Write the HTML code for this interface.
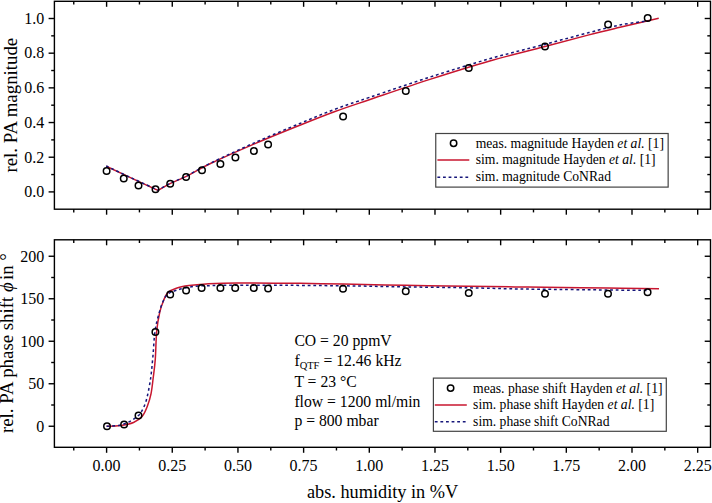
<!DOCTYPE html>
<html><head><meta charset="utf-8"><style>
html,body{margin:0;padding:0;background:#fff;}
body{width:712px;height:503px;overflow:hidden;}
svg{display:block;}
</style></head><body>
<svg width="712" height="503" viewBox="0 0 712 503" font-family='"Liberation Serif", serif'>
<rect width="712" height="503" fill="#fff"/>
<rect x="54.4" y="1.3" width="656.1" height="207.89999999999998" fill="none" stroke="#000" stroke-width="1.4"/>
<line x1="73.76" y1="209.2" x2="73.76" y2="212.39999999999998" stroke="#000" stroke-width="1.4"/>
<line x1="73.76" y1="1.3" x2="73.76" y2="4.5" stroke="#000" stroke-width="1.4"/>
<line x1="106.60" y1="209.2" x2="106.60" y2="214.7" stroke="#000" stroke-width="1.4"/>
<line x1="106.60" y1="1.3" x2="106.60" y2="6.8" stroke="#000" stroke-width="1.4"/>
<line x1="139.44" y1="209.2" x2="139.44" y2="212.39999999999998" stroke="#000" stroke-width="1.4"/>
<line x1="139.44" y1="1.3" x2="139.44" y2="4.5" stroke="#000" stroke-width="1.4"/>
<line x1="172.27" y1="209.2" x2="172.27" y2="214.7" stroke="#000" stroke-width="1.4"/>
<line x1="172.27" y1="1.3" x2="172.27" y2="6.8" stroke="#000" stroke-width="1.4"/>
<line x1="205.11" y1="209.2" x2="205.11" y2="212.39999999999998" stroke="#000" stroke-width="1.4"/>
<line x1="205.11" y1="1.3" x2="205.11" y2="4.5" stroke="#000" stroke-width="1.4"/>
<line x1="237.95" y1="209.2" x2="237.95" y2="214.7" stroke="#000" stroke-width="1.4"/>
<line x1="237.95" y1="1.3" x2="237.95" y2="6.8" stroke="#000" stroke-width="1.4"/>
<line x1="270.79" y1="209.2" x2="270.79" y2="212.39999999999998" stroke="#000" stroke-width="1.4"/>
<line x1="270.79" y1="1.3" x2="270.79" y2="4.5" stroke="#000" stroke-width="1.4"/>
<line x1="303.62" y1="209.2" x2="303.62" y2="214.7" stroke="#000" stroke-width="1.4"/>
<line x1="303.62" y1="1.3" x2="303.62" y2="6.8" stroke="#000" stroke-width="1.4"/>
<line x1="336.46" y1="209.2" x2="336.46" y2="212.39999999999998" stroke="#000" stroke-width="1.4"/>
<line x1="336.46" y1="1.3" x2="336.46" y2="4.5" stroke="#000" stroke-width="1.4"/>
<line x1="369.30" y1="209.2" x2="369.30" y2="214.7" stroke="#000" stroke-width="1.4"/>
<line x1="369.30" y1="1.3" x2="369.30" y2="6.8" stroke="#000" stroke-width="1.4"/>
<line x1="402.14" y1="209.2" x2="402.14" y2="212.39999999999998" stroke="#000" stroke-width="1.4"/>
<line x1="402.14" y1="1.3" x2="402.14" y2="4.5" stroke="#000" stroke-width="1.4"/>
<line x1="434.98" y1="209.2" x2="434.98" y2="214.7" stroke="#000" stroke-width="1.4"/>
<line x1="434.98" y1="1.3" x2="434.98" y2="6.8" stroke="#000" stroke-width="1.4"/>
<line x1="467.81" y1="209.2" x2="467.81" y2="212.39999999999998" stroke="#000" stroke-width="1.4"/>
<line x1="467.81" y1="1.3" x2="467.81" y2="4.5" stroke="#000" stroke-width="1.4"/>
<line x1="500.65" y1="209.2" x2="500.65" y2="214.7" stroke="#000" stroke-width="1.4"/>
<line x1="500.65" y1="1.3" x2="500.65" y2="6.8" stroke="#000" stroke-width="1.4"/>
<line x1="533.49" y1="209.2" x2="533.49" y2="212.39999999999998" stroke="#000" stroke-width="1.4"/>
<line x1="533.49" y1="1.3" x2="533.49" y2="4.5" stroke="#000" stroke-width="1.4"/>
<line x1="566.32" y1="209.2" x2="566.32" y2="214.7" stroke="#000" stroke-width="1.4"/>
<line x1="566.32" y1="1.3" x2="566.32" y2="6.8" stroke="#000" stroke-width="1.4"/>
<line x1="599.16" y1="209.2" x2="599.16" y2="212.39999999999998" stroke="#000" stroke-width="1.4"/>
<line x1="599.16" y1="1.3" x2="599.16" y2="4.5" stroke="#000" stroke-width="1.4"/>
<line x1="632.00" y1="209.2" x2="632.00" y2="214.7" stroke="#000" stroke-width="1.4"/>
<line x1="632.00" y1="1.3" x2="632.00" y2="6.8" stroke="#000" stroke-width="1.4"/>
<line x1="664.84" y1="209.2" x2="664.84" y2="212.39999999999998" stroke="#000" stroke-width="1.4"/>
<line x1="664.84" y1="1.3" x2="664.84" y2="4.5" stroke="#000" stroke-width="1.4"/>
<line x1="697.67" y1="209.2" x2="697.67" y2="214.7" stroke="#000" stroke-width="1.4"/>
<line x1="697.67" y1="1.3" x2="697.67" y2="6.8" stroke="#000" stroke-width="1.4"/>
<line x1="48.6" y1="191.90" x2="54.4" y2="191.90" stroke="#000" stroke-width="1.4"/>
<line x1="704.7" y1="191.90" x2="710.5" y2="191.90" stroke="#000" stroke-width="1.4"/>
<line x1="48.6" y1="157.22" x2="54.4" y2="157.22" stroke="#000" stroke-width="1.4"/>
<line x1="704.7" y1="157.22" x2="710.5" y2="157.22" stroke="#000" stroke-width="1.4"/>
<line x1="48.6" y1="122.54" x2="54.4" y2="122.54" stroke="#000" stroke-width="1.4"/>
<line x1="704.7" y1="122.54" x2="710.5" y2="122.54" stroke="#000" stroke-width="1.4"/>
<line x1="48.6" y1="87.86" x2="54.4" y2="87.86" stroke="#000" stroke-width="1.4"/>
<line x1="704.7" y1="87.86" x2="710.5" y2="87.86" stroke="#000" stroke-width="1.4"/>
<line x1="48.6" y1="53.18" x2="54.4" y2="53.18" stroke="#000" stroke-width="1.4"/>
<line x1="704.7" y1="53.18" x2="710.5" y2="53.18" stroke="#000" stroke-width="1.4"/>
<line x1="48.6" y1="18.50" x2="54.4" y2="18.50" stroke="#000" stroke-width="1.4"/>
<line x1="704.7" y1="18.50" x2="710.5" y2="18.50" stroke="#000" stroke-width="1.4"/>
<line x1="51.199999999999996" y1="174.56" x2="54.4" y2="174.56" stroke="#000" stroke-width="1.4"/>
<line x1="707.3" y1="174.56" x2="710.5" y2="174.56" stroke="#000" stroke-width="1.4"/>
<line x1="51.199999999999996" y1="139.88" x2="54.4" y2="139.88" stroke="#000" stroke-width="1.4"/>
<line x1="707.3" y1="139.88" x2="710.5" y2="139.88" stroke="#000" stroke-width="1.4"/>
<line x1="51.199999999999996" y1="105.20" x2="54.4" y2="105.20" stroke="#000" stroke-width="1.4"/>
<line x1="707.3" y1="105.20" x2="710.5" y2="105.20" stroke="#000" stroke-width="1.4"/>
<line x1="51.199999999999996" y1="70.52" x2="54.4" y2="70.52" stroke="#000" stroke-width="1.4"/>
<line x1="707.3" y1="70.52" x2="710.5" y2="70.52" stroke="#000" stroke-width="1.4"/>
<line x1="51.199999999999996" y1="35.84" x2="54.4" y2="35.84" stroke="#000" stroke-width="1.4"/>
<line x1="707.3" y1="35.84" x2="710.5" y2="35.84" stroke="#000" stroke-width="1.4"/>
<text x="44.2" y="197.20" text-anchor="end" font-size="16">0.0</text>
<text x="44.2" y="162.52" text-anchor="end" font-size="16">0.2</text>
<text x="44.2" y="127.84" text-anchor="end" font-size="16">0.4</text>
<text x="44.2" y="93.16" text-anchor="end" font-size="16">0.6</text>
<text x="44.2" y="58.48" text-anchor="end" font-size="16">0.8</text>
<text x="44.2" y="23.80" text-anchor="end" font-size="16">1.0</text>
<path d="M106.25,166.20 C110.54,168.23 123.38,174.37 132.00,178.40 C140.62,182.43 153.67,188.40 158.00,190.40  L158.00,190.40 C160.00,189.27 165.29,185.95 170.00,183.60 C174.71,181.25 179.42,179.68 186.25,176.30 C193.08,172.92 199.54,168.75 211.00,163.30 C222.46,157.85 240.18,149.95 255.00,143.60 C269.82,137.25 286.57,130.55 299.90,125.20 C313.23,119.85 323.32,115.78 335.00,111.50 C346.68,107.22 354.18,104.85 370.00,99.50 C385.82,94.15 410.08,85.78 429.90,79.40 C449.72,73.03 469.72,66.72 488.90,61.25 C508.08,55.78 528.33,50.99 545.00,46.60 C561.67,42.21 576.40,38.12 588.90,34.90 C601.40,31.68 608.36,30.08 620.00,27.30 C631.64,24.52 652.29,19.72 658.75,18.20" fill="none" stroke="#c8162f" stroke-width="1.5" stroke-linejoin="miter"/>
<path d="M106.25,166.00 C110.54,168.03 123.38,174.17 132.00,178.20 C140.62,182.23 153.67,188.20 158.00,190.20  L158.00,190.20 C160.00,189.07 165.29,185.75 170.00,183.40 C174.71,181.05 179.42,179.51 186.25,176.10 C193.08,172.69 199.54,168.52 211.00,162.93 C222.46,157.34 240.18,149.13 255.00,142.55 C269.82,135.98 286.57,129.02 299.90,123.46 C313.23,117.90 323.32,113.58 335.00,109.20 C346.68,104.82 354.18,102.55 370.00,97.20 C385.82,91.85 410.08,83.48 429.90,77.10 C449.72,70.73 469.72,64.42 488.90,58.95 C508.08,53.48 528.33,48.69 545.00,44.30 C561.67,39.91 576.40,35.82 588.90,32.60 C601.40,29.38 610.15,26.95 620.00,25.00 C629.85,23.05 643.33,21.58 648.00,20.90" fill="none" stroke="#16167a" stroke-width="1.5" stroke-dasharray="2.8 2.8"/>
<circle cx="106.6" cy="171" r="3.25" fill="none" stroke="#000" stroke-width="1.5"/>
<circle cx="123.75" cy="178.5" r="3.25" fill="none" stroke="#000" stroke-width="1.5"/>
<circle cx="138.5" cy="185.4" r="3.25" fill="none" stroke="#000" stroke-width="1.5"/>
<circle cx="155.5" cy="189.3" r="3.25" fill="none" stroke="#000" stroke-width="1.5"/>
<circle cx="170.2" cy="183.8" r="3.25" fill="none" stroke="#000" stroke-width="1.5"/>
<circle cx="186.1" cy="177.0" r="3.25" fill="none" stroke="#000" stroke-width="1.5"/>
<circle cx="202" cy="170.3" r="3.25" fill="none" stroke="#000" stroke-width="1.5"/>
<circle cx="220.4" cy="164" r="3.25" fill="none" stroke="#000" stroke-width="1.5"/>
<circle cx="235.4" cy="157.5" r="3.25" fill="none" stroke="#000" stroke-width="1.5"/>
<circle cx="253.9" cy="151" r="3.25" fill="none" stroke="#000" stroke-width="1.5"/>
<circle cx="268.1" cy="144.4" r="3.25" fill="none" stroke="#000" stroke-width="1.5"/>
<circle cx="343.1" cy="116.5" r="3.25" fill="none" stroke="#000" stroke-width="1.5"/>
<circle cx="405.8" cy="91.1" r="3.25" fill="none" stroke="#000" stroke-width="1.5"/>
<circle cx="468.75" cy="67.9" r="3.25" fill="none" stroke="#000" stroke-width="1.5"/>
<circle cx="545" cy="46.5" r="3.25" fill="none" stroke="#000" stroke-width="1.5"/>
<circle cx="608.1" cy="24.4" r="3.25" fill="none" stroke="#000" stroke-width="1.5"/>
<circle cx="647.7" cy="17.9" r="3.25" fill="none" stroke="#000" stroke-width="1.5"/>
<rect x="435.75" y="133.5" width="232.4" height="53.6" fill="#fff" stroke="#444" stroke-width="1.2"/>
<circle cx="453.6" cy="143.2" r="3.2" fill="none" stroke="#000" stroke-width="1.5"/>
<line x1="437.4" y1="160" x2="469.3" y2="160" stroke="#c8162f" stroke-width="1.6"/>
<line x1="437.4" y1="177.2" x2="469.3" y2="177.2" stroke="#16167a" stroke-width="1.6" stroke-dasharray="2.8 2.8"/>
<text x="475.7" y="147.6" font-size="13.65">meas. magnitude Hayden <tspan font-style="italic">et al.</tspan> [1]</text>
<text x="475.7" y="164.3" font-size="13.65">sim. magnitude Hayden <tspan font-style="italic">et al.</tspan> [1]</text>
<text x="475.7" y="181.0" font-size="13.65">sim. magnitude CoNRad</text>
<rect x="54.4" y="239.8" width="656.1" height="207.5" fill="none" stroke="#000" stroke-width="1.4"/>
<line x1="73.76" y1="447.3" x2="73.76" y2="450.5" stroke="#000" stroke-width="1.4"/>
<line x1="73.76" y1="239.8" x2="73.76" y2="243.0" stroke="#000" stroke-width="1.4"/>
<line x1="106.60" y1="447.3" x2="106.60" y2="452.8" stroke="#000" stroke-width="1.4"/>
<line x1="106.60" y1="239.8" x2="106.60" y2="245.3" stroke="#000" stroke-width="1.4"/>
<line x1="139.44" y1="447.3" x2="139.44" y2="450.5" stroke="#000" stroke-width="1.4"/>
<line x1="139.44" y1="239.8" x2="139.44" y2="243.0" stroke="#000" stroke-width="1.4"/>
<line x1="172.27" y1="447.3" x2="172.27" y2="452.8" stroke="#000" stroke-width="1.4"/>
<line x1="172.27" y1="239.8" x2="172.27" y2="245.3" stroke="#000" stroke-width="1.4"/>
<line x1="205.11" y1="447.3" x2="205.11" y2="450.5" stroke="#000" stroke-width="1.4"/>
<line x1="205.11" y1="239.8" x2="205.11" y2="243.0" stroke="#000" stroke-width="1.4"/>
<line x1="237.95" y1="447.3" x2="237.95" y2="452.8" stroke="#000" stroke-width="1.4"/>
<line x1="237.95" y1="239.8" x2="237.95" y2="245.3" stroke="#000" stroke-width="1.4"/>
<line x1="270.79" y1="447.3" x2="270.79" y2="450.5" stroke="#000" stroke-width="1.4"/>
<line x1="270.79" y1="239.8" x2="270.79" y2="243.0" stroke="#000" stroke-width="1.4"/>
<line x1="303.62" y1="447.3" x2="303.62" y2="452.8" stroke="#000" stroke-width="1.4"/>
<line x1="303.62" y1="239.8" x2="303.62" y2="245.3" stroke="#000" stroke-width="1.4"/>
<line x1="336.46" y1="447.3" x2="336.46" y2="450.5" stroke="#000" stroke-width="1.4"/>
<line x1="336.46" y1="239.8" x2="336.46" y2="243.0" stroke="#000" stroke-width="1.4"/>
<line x1="369.30" y1="447.3" x2="369.30" y2="452.8" stroke="#000" stroke-width="1.4"/>
<line x1="369.30" y1="239.8" x2="369.30" y2="245.3" stroke="#000" stroke-width="1.4"/>
<line x1="402.14" y1="447.3" x2="402.14" y2="450.5" stroke="#000" stroke-width="1.4"/>
<line x1="402.14" y1="239.8" x2="402.14" y2="243.0" stroke="#000" stroke-width="1.4"/>
<line x1="434.98" y1="447.3" x2="434.98" y2="452.8" stroke="#000" stroke-width="1.4"/>
<line x1="434.98" y1="239.8" x2="434.98" y2="245.3" stroke="#000" stroke-width="1.4"/>
<line x1="467.81" y1="447.3" x2="467.81" y2="450.5" stroke="#000" stroke-width="1.4"/>
<line x1="467.81" y1="239.8" x2="467.81" y2="243.0" stroke="#000" stroke-width="1.4"/>
<line x1="500.65" y1="447.3" x2="500.65" y2="452.8" stroke="#000" stroke-width="1.4"/>
<line x1="500.65" y1="239.8" x2="500.65" y2="245.3" stroke="#000" stroke-width="1.4"/>
<line x1="533.49" y1="447.3" x2="533.49" y2="450.5" stroke="#000" stroke-width="1.4"/>
<line x1="533.49" y1="239.8" x2="533.49" y2="243.0" stroke="#000" stroke-width="1.4"/>
<line x1="566.32" y1="447.3" x2="566.32" y2="452.8" stroke="#000" stroke-width="1.4"/>
<line x1="566.32" y1="239.8" x2="566.32" y2="245.3" stroke="#000" stroke-width="1.4"/>
<line x1="599.16" y1="447.3" x2="599.16" y2="450.5" stroke="#000" stroke-width="1.4"/>
<line x1="599.16" y1="239.8" x2="599.16" y2="243.0" stroke="#000" stroke-width="1.4"/>
<line x1="632.00" y1="447.3" x2="632.00" y2="452.8" stroke="#000" stroke-width="1.4"/>
<line x1="632.00" y1="239.8" x2="632.00" y2="245.3" stroke="#000" stroke-width="1.4"/>
<line x1="664.84" y1="447.3" x2="664.84" y2="450.5" stroke="#000" stroke-width="1.4"/>
<line x1="664.84" y1="239.8" x2="664.84" y2="243.0" stroke="#000" stroke-width="1.4"/>
<line x1="697.67" y1="447.3" x2="697.67" y2="452.8" stroke="#000" stroke-width="1.4"/>
<line x1="697.67" y1="239.8" x2="697.67" y2="245.3" stroke="#000" stroke-width="1.4"/>
<line x1="48.6" y1="426.25" x2="54.4" y2="426.25" stroke="#000" stroke-width="1.4"/>
<line x1="704.7" y1="426.25" x2="710.5" y2="426.25" stroke="#000" stroke-width="1.4"/>
<line x1="48.6" y1="383.75" x2="54.4" y2="383.75" stroke="#000" stroke-width="1.4"/>
<line x1="704.7" y1="383.75" x2="710.5" y2="383.75" stroke="#000" stroke-width="1.4"/>
<line x1="48.6" y1="341.25" x2="54.4" y2="341.25" stroke="#000" stroke-width="1.4"/>
<line x1="704.7" y1="341.25" x2="710.5" y2="341.25" stroke="#000" stroke-width="1.4"/>
<line x1="48.6" y1="298.75" x2="54.4" y2="298.75" stroke="#000" stroke-width="1.4"/>
<line x1="704.7" y1="298.75" x2="710.5" y2="298.75" stroke="#000" stroke-width="1.4"/>
<line x1="48.6" y1="256.25" x2="54.4" y2="256.25" stroke="#000" stroke-width="1.4"/>
<line x1="704.7" y1="256.25" x2="710.5" y2="256.25" stroke="#000" stroke-width="1.4"/>
<line x1="51.199999999999996" y1="405.00" x2="54.4" y2="405.00" stroke="#000" stroke-width="1.4"/>
<line x1="707.3" y1="405.00" x2="710.5" y2="405.00" stroke="#000" stroke-width="1.4"/>
<line x1="51.199999999999996" y1="362.50" x2="54.4" y2="362.50" stroke="#000" stroke-width="1.4"/>
<line x1="707.3" y1="362.50" x2="710.5" y2="362.50" stroke="#000" stroke-width="1.4"/>
<line x1="51.199999999999996" y1="320.00" x2="54.4" y2="320.00" stroke="#000" stroke-width="1.4"/>
<line x1="707.3" y1="320.00" x2="710.5" y2="320.00" stroke="#000" stroke-width="1.4"/>
<line x1="51.199999999999996" y1="277.50" x2="54.4" y2="277.50" stroke="#000" stroke-width="1.4"/>
<line x1="707.3" y1="277.50" x2="710.5" y2="277.50" stroke="#000" stroke-width="1.4"/>
<text x="44.2" y="431.55" text-anchor="end" font-size="16">0</text>
<text x="44.2" y="389.05" text-anchor="end" font-size="16">50</text>
<text x="44.2" y="346.55" text-anchor="end" font-size="16">100</text>
<text x="44.2" y="304.05" text-anchor="end" font-size="16">150</text>
<text x="44.2" y="261.55" text-anchor="end" font-size="16">200</text>
<path d="M106.60,426.30 C108.83,426.18 115.52,426.23 120.00,425.60 C124.48,424.97 129.79,424.05 133.50,422.50 C137.21,420.95 139.96,418.97 142.25,416.30 C144.54,413.63 145.79,410.25 147.25,406.50 C148.71,402.75 149.99,398.72 151.00,393.80 C152.01,388.88 152.58,382.80 153.30,377.00 C154.02,371.20 154.73,366.67 155.30,359.00 C155.87,351.33 155.95,338.83 156.70,331.00 C157.45,323.17 158.63,317.13 159.80,312.00 C160.97,306.87 162.35,303.43 163.70,300.20 C165.05,296.97 165.80,294.60 167.90,292.60 C170.00,290.60 172.78,289.37 176.30,288.20 C179.82,287.03 184.05,286.30 189.00,285.60 C193.95,284.90 197.92,284.45 206.00,284.00 C214.08,283.55 221.83,283.02 237.50,282.90 C253.17,282.78 282.42,283.10 300.00,283.30 C317.58,283.50 325.50,283.77 343.00,284.10 C360.50,284.43 384.17,284.93 405.00,285.30 C425.83,285.67 449.67,286.03 468.00,286.30 C486.33,286.57 502.17,286.73 515.00,286.90 C527.83,287.07 529.50,287.10 545.00,287.30 C560.50,287.50 589.00,287.87 608.00,288.10 C627.00,288.33 650.50,288.60 659.00,288.70" fill="none" stroke="#c8162f" stroke-width="1.5"/>
<path d="M106.60,426.30 C108.83,426.12 116.10,426.03 120.00,425.20 C123.90,424.37 127.00,422.87 130.00,421.30 C133.00,419.73 136.17,417.27 138.00,415.80 C139.83,414.33 139.67,414.92 141.00,412.50 C142.33,410.08 144.43,406.72 146.00,401.30 C147.57,395.88 149.25,387.47 150.40,380.00 C151.55,372.53 152.13,364.67 152.90,356.50 C153.67,348.33 153.98,338.17 155.00,331.00 C156.02,323.83 157.67,318.42 159.00,313.50 C160.33,308.58 161.50,304.75 163.00,301.50 C164.50,298.25 165.58,295.92 168.00,294.00 C170.42,292.08 173.21,291.27 177.50,290.00 C181.79,288.73 188.17,287.13 193.75,286.40 C199.33,285.67 205.38,285.78 211.00,285.60 C216.62,285.42 218.00,285.37 227.50,285.30 C237.00,285.23 248.75,285.12 268.00,285.20 C287.25,285.28 320.17,285.52 343.00,285.80 C365.83,286.08 384.17,286.57 405.00,286.90 C425.83,287.23 449.67,287.47 468.00,287.80 C486.33,288.13 502.17,288.65 515.00,288.90 C527.83,289.15 529.50,289.12 545.00,289.30 C560.50,289.48 590.83,289.82 608.00,290.00 C625.17,290.18 641.33,290.33 648.00,290.40" fill="none" stroke="#16167a" stroke-width="1.5" stroke-dasharray="2.8 2.8"/>
<circle cx="107" cy="426.2" r="3.25" fill="none" stroke="#000" stroke-width="1.5"/>
<circle cx="124.1" cy="424.4" r="3.25" fill="none" stroke="#000" stroke-width="1.5"/>
<circle cx="138.5" cy="415.6" r="3.25" fill="none" stroke="#000" stroke-width="1.5"/>
<circle cx="155.4" cy="332.1" r="3.25" fill="none" stroke="#000" stroke-width="1.5"/>
<circle cx="170.2" cy="294.6" r="3.25" fill="none" stroke="#000" stroke-width="1.5"/>
<circle cx="186.1" cy="290.4" r="3.25" fill="none" stroke="#000" stroke-width="1.5"/>
<circle cx="201.6" cy="288.1" r="3.25" fill="none" stroke="#000" stroke-width="1.5"/>
<circle cx="220.4" cy="288.1" r="3.25" fill="none" stroke="#000" stroke-width="1.5"/>
<circle cx="235.2" cy="288.1" r="3.25" fill="none" stroke="#000" stroke-width="1.5"/>
<circle cx="253.8" cy="288.1" r="3.25" fill="none" stroke="#000" stroke-width="1.5"/>
<circle cx="268.1" cy="288.5" r="3.25" fill="none" stroke="#000" stroke-width="1.5"/>
<circle cx="343" cy="288.75" r="3.25" fill="none" stroke="#000" stroke-width="1.5"/>
<circle cx="405.75" cy="291.25" r="3.25" fill="none" stroke="#000" stroke-width="1.5"/>
<circle cx="468.75" cy="293" r="3.25" fill="none" stroke="#000" stroke-width="1.5"/>
<circle cx="545" cy="293.75" r="3.25" fill="none" stroke="#000" stroke-width="1.5"/>
<circle cx="608" cy="293.75" r="3.25" fill="none" stroke="#000" stroke-width="1.5"/>
<circle cx="647.6" cy="292.2" r="3.25" fill="none" stroke="#000" stroke-width="1.5"/>
<text x="294.4" y="345.5" font-size="15.7">CO = 20 ppmV</text>
<text x="294.4" y="386.8" font-size="15.7">T = 23 °C</text>
<text x="294.4" y="406.6" font-size="15.7">flow = 1200 ml/min</text>
<text x="294.4" y="425.6" font-size="15.7">p = 800 mbar</text>
<text x="294.4" y="365.5" font-size="15.7">f<tspan font-size="10.5" dy="3.2">QTF</tspan><tspan dy="-3.2"> = 12.46 kHz</tspan></text>
<rect x="433.4" y="378.1" width="232.9" height="53.2" fill="#fff" stroke="#444" stroke-width="1.2"/>
<circle cx="450.6" cy="388.1" r="3.2" fill="none" stroke="#000" stroke-width="1.5"/>
<line x1="434.8" y1="405" x2="466.8" y2="405" stroke="#c8162f" stroke-width="1.6"/>
<line x1="434.8" y1="421.7" x2="466.8" y2="421.7" stroke="#16167a" stroke-width="1.6" stroke-dasharray="2.8 2.8"/>
<text x="473.1" y="392.5" font-size="13.65">meas. phase shift Hayden <tspan font-style="italic">et al.</tspan> [1]</text>
<text x="473.1" y="409.3" font-size="13.65">sim. phase shift Hayden <tspan font-style="italic">et al.</tspan> [1]</text>
<text x="473.1" y="426.0" font-size="13.65">sim. phase shift CoNRad</text>
<text x="106.60" y="470.9" text-anchor="middle" font-size="16">0.00</text>
<text x="172.27" y="470.9" text-anchor="middle" font-size="16">0.25</text>
<text x="237.95" y="470.9" text-anchor="middle" font-size="16">0.50</text>
<text x="303.62" y="470.9" text-anchor="middle" font-size="16">0.75</text>
<text x="369.30" y="470.9" text-anchor="middle" font-size="16">1.00</text>
<text x="434.98" y="470.9" text-anchor="middle" font-size="16">1.25</text>
<text x="500.65" y="470.9" text-anchor="middle" font-size="16">1.50</text>
<text x="566.32" y="470.9" text-anchor="middle" font-size="16">1.75</text>
<text x="632.00" y="470.9" text-anchor="middle" font-size="16">2.00</text>
<text x="697.67" y="470.9" text-anchor="middle" font-size="16">2.25</text>
<text x="382.6" y="498.3" text-anchor="middle" font-size="18.3">abs. humidity in %V</text>
<text transform="translate(17.1,172.6) rotate(-90) scale(1.03,1)" font-size="18.3">rel. PA magnitude</text>
<text transform="translate(13.2,433.1) rotate(-90) scale(1.03,1)" font-size="18.3">rel. PA phase shift <tspan font-style="italic" dx="0">ϕ</tspan><tspan dx="-2.4"> in °</tspan></text>
</svg>
</body></html>
